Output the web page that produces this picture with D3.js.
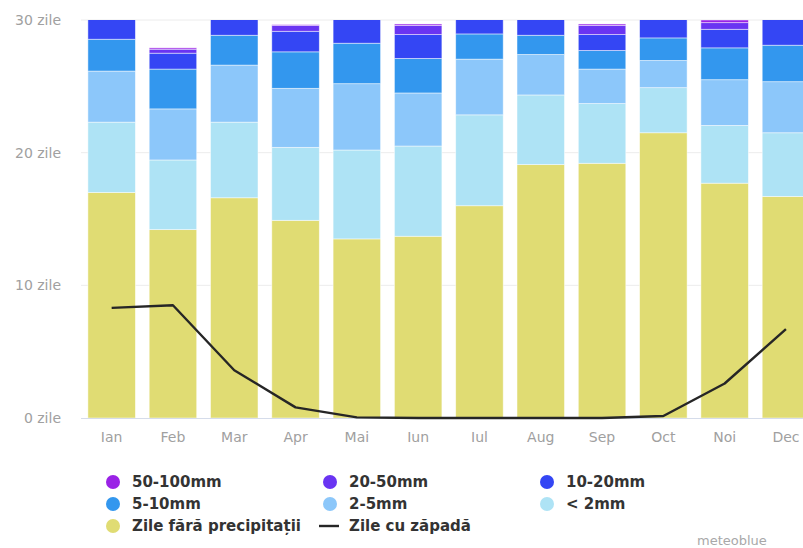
<!DOCTYPE html>
<html>
<head>
<meta charset="utf-8">
<script src="https://cdn.jsdelivr.net/npm/d3@7"></script>
<style>
  html, body { margin: 0; padding: 0; background: #fff; }
  svg { display: block; font-family: "DejaVu Sans", sans-serif; }
</style>
</head>
<body>
<svg id="chart" width="803" height="548"></svg>
<script>
// Monthly precipitation-day distribution (days per month)
const months = ["Ian", "Feb", "Mar", "Apr", "Mai", "Iun", "Iul", "Aug", "Sep", "Oct", "Noi", "Dec"];
const dryDays   = [17.0, 14.2, 16.6, 14.9, 13.5, 13.7, 16.0, 19.1, 19.2, 21.5, 17.7, 16.7];
const under2mm  = [5.3, 5.25, 5.7, 5.5, 6.7, 6.8, 6.85, 5.25, 4.5, 3.4, 4.35, 4.8];
const mm2to5    = [3.85, 3.85, 4.3, 4.45, 5.0, 4.0, 4.2, 3.05, 2.6, 2.05, 3.45, 3.85];
const mm5to10   = [2.4, 3.0, 2.25, 2.75, 3.05, 2.6, 1.9, 1.45, 1.4, 1.7, 2.4, 2.75];
const mm10to20  = [2.1, 1.2, 1.9, 1.55, 2.2, 1.8, 1.7, 1.75, 1.2, 1.9, 1.4, 2.4];
const mm20to50  = [0.3, 0.3, 0.22, 0.45, 0.45, 0.7, 0.32, 0.37, 0.7, 0.4, 0.5, 0.45];
const mm50to100 = [0.05, 0.1, 0.03, 0.05, 0.1, 0.1, 0.03, 0.03, 0.1, 0.1, 0.2, 0.05];
const snowDays  = [8.3, 8.5, 3.6, 0.8, 0.05, 0, 0, 0, 0, 0.15, 2.6, 6.7];
const yTicks = [0, 10, 20, 30];

// Stack order, bottom to top
const seriesKeys = ["dry", "lt2", "r2", "r5", "r10", "r20", "r50"];
const seriesNames = {
  r50: "50-100mm", r20: "20-50mm", r10: "10-20mm",
  r5: "5-10mm", r2: "2-5mm", lt2: "< 2mm", dry: "Zile fără precipitații"
};
const colors = {
  dry: "#e0dc73", lt2: "#aee3f5", r2: "#8cc7fa", r5: "#3397ee",
  r10: "#3446f4", r20: "#6a34f2", r50: "#9a22e6"
};

const table = months.map((m, i) => ({
  month: m,
  dry: dryDays[i], lt2: under2mm[i], r2: mm2to5[i], r5: mm5to10[i],
  r10: mm10to20[i], r20: mm20to50[i], r50: mm50to100[i]
}));

const svg = d3.select("#chart");
const plot = { left: 81, right: 816.6, top: 20, bottom: 418 };

const x = d3.scaleBand()
  .domain(months)
  .range([plot.left, plot.right])
  .paddingInner(0.225)
  .paddingOuter(0.1125);

const y = d3.scaleLinear().domain([0, 30]).range([plot.bottom, plot.top]);

svg.append("defs").append("clipPath").attr("id", "plotClip")
  .append("rect")
  .attr("x", plot.left).attr("y", plot.top)
  .attr("width", plot.right - plot.left).attr("height", plot.bottom - plot.top);

// Grid lines
svg.append("g").selectAll("line")
  .data(yTicks.filter(t => t > 0))
  .join("line")
  .attr("x1", plot.left).attr("x2", 803)
  .attr("y1", d => y(d)).attr("y2", d => y(d))
  .attr("stroke", "#ececec").attr("stroke-width", 1);

// Y axis labels
const yAxis = d3.axisLeft(y).tickValues(yTicks).tickSize(0).tickPadding(0)
  .tickFormat(d => d + " zile");
const gy = svg.append("g").attr("transform", `translate(61,0)`).call(yAxis);
gy.select(".domain").remove();
gy.selectAll("text").attr("fill", "#a0a0a0").attr("font-size", 14)
  .attr("font-family", "DejaVu Sans, sans-serif");

// Stacked bars
const stacked = d3.stack().keys(seriesKeys)(table);
svg.append("g").attr("clip-path", "url(#plotClip)")
  .selectAll("g")
  .data(stacked)
  .join("g")
  .attr("fill", d => colors[d.key])
  .selectAll("rect")
  .data(d => d)
  .join("rect")
  .attr("x", d => x(d.data.month))
  .attr("width", x.bandwidth())
  .attr("y", d => y(d[1]))
  .attr("height", d => Math.max(0, y(d[0]) - y(d[1])))
  .attr("stroke", "#ffffff")
  .attr("stroke-opacity", 0.6)
  .attr("stroke-width", 0.8);

// Baseline
svg.append("line")
  .attr("x1", plot.left).attr("x2", 803)
  .attr("y1", y(0) + 0.5).attr("y2", y(0) + 0.5)
  .attr("stroke", "#d5dcea").attr("stroke-width", 1);

// X axis labels
const xAxis = d3.axisBottom(x).tickSize(0).tickPadding(0);
const gx = svg.append("g").attr("transform", `translate(0,${y(0) + 14})`).call(xAxis);
gx.select(".domain").remove();
gx.selectAll("text").attr("fill", "#a0a0a0").attr("font-size", 14)
  .attr("font-family", "DejaVu Sans, sans-serif");

// Snow-days line
const line = d3.line()
  .x((d, i) => x(months[i]) + x.bandwidth() / 2)
  .y(d => y(d));
svg.append("path")
  .datum(snowDays)
  .attr("d", line)
  .attr("fill", "none")
  .attr("stroke", "#262626")
  .attr("stroke-width", 2.4)
  .attr("stroke-linejoin", "round");

// Legend
const legendItems = [
  { key: "r50", col: 0, row: 0 }, { key: "r20", col: 1, row: 0 }, { key: "r10", col: 2, row: 0 },
  { key: "r5", col: 0, row: 1 }, { key: "r2", col: 1, row: 1 }, { key: "lt2", col: 2, row: 1 },
  { key: "dry", col: 0, row: 2 }, { key: "snow", col: 1, row: 2 }
];
const colX = [113, 330, 547];
const rowY = [482, 504, 526];
const legend = svg.append("g");
legendItems.forEach(it => {
  const g = legend.append("g")
    .attr("transform", `translate(${colX[it.col]},${rowY[it.row]})`);
  if (it.key === "snow") {
    g.append("line").attr("x1", -11).attr("x2", 9).attr("y1", 0).attr("y2", 0)
      .attr("stroke", "#262626").attr("stroke-width", 2.4);
  } else {
    g.append("circle").attr("r", 7).attr("fill", colors[it.key]);
  }
  g.append("text")
    .attr("x", 19).attr("y", 0).attr("dy", "0.35em")
    .attr("font-size", 15).attr("font-weight", "bold")
    .attr("fill", "#333")
    .text(it.key === "snow" ? "Zile cu zăpadă" : seriesNames[it.key]);
});

// Credit
svg.append("text")
  .attr("x", 697).attr("y", 545)
  .attr("font-size", 13).attr("fill", "#a8a8a8")
  .text("meteoblue");
</script>
</body>
</html>
